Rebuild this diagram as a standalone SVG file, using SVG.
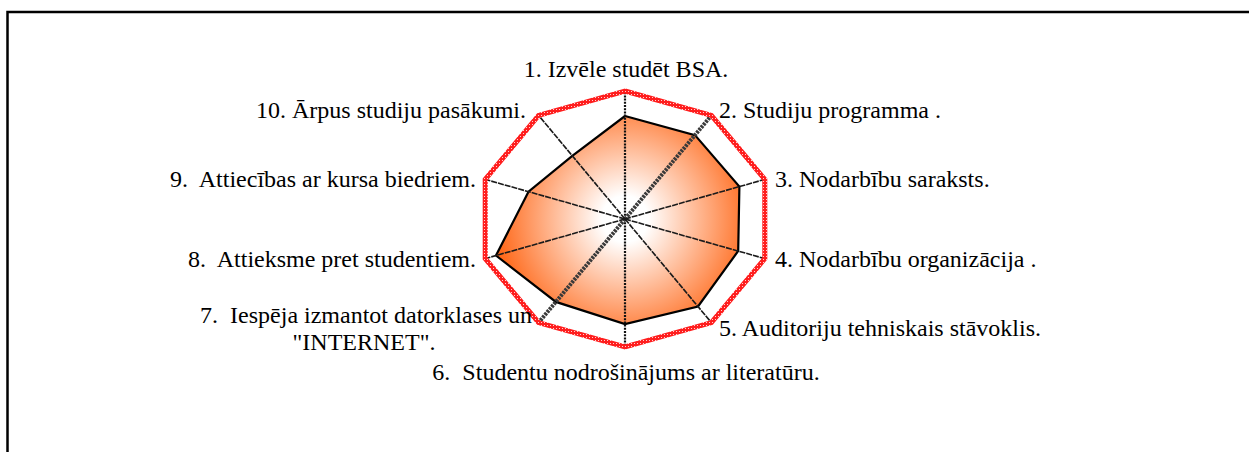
<svg xmlns="http://www.w3.org/2000/svg" width="1249" height="452" viewBox="0 0 1249 452">
<style>
.lbl{font-family:"Liberation Serif","Times New Roman",serif;font-size:24px;fill:#000;white-space:pre}
.ax{fill:none;stroke:#1a1a1a;stroke-width:1.6;stroke-dasharray:6 1}
.ax-v{fill:none;stroke:#111;stroke-width:2.2;stroke-dasharray:2 1.2}
.ax-k{fill:none;stroke:#3a3a3a;stroke-width:4;stroke-dasharray:2.5 1}
.frame{fill:none;stroke:#000;stroke-width:2.5}
</style>
<defs>
<radialGradient id="rg" gradientUnits="userSpaceOnUse" cx="625" cy="219" r="128">
<stop offset="0" stop-color="#ffffff"/>
<stop offset="0.18" stop-color="#ffffff"/>
<stop offset="1" stop-color="#ff6a1c"/>
</radialGradient>
<pattern id="chk" patternUnits="userSpaceOnUse" width="3" height="3">
<rect width="3" height="3" fill="#ff1e1e"/>
<rect x="1" y="1" width="1" height="1" fill="#ffd0d0"/>
</pattern>
</defs>
<rect width="1249" height="452" fill="#fff"/>
<g id="frame">
<polyline class="frame" points="7.5,452 7.5,12 1249,12"/>
</g>
<g id="data">
<polygon points="625,116 695,135.1 739.4,186.6 738.2,251 698,306.5 625,324 555.9,301.9 496,255.5 528.5,191.7 572.3,155.8" fill="url(#rg)" stroke="#000" stroke-width="2.2" stroke-linejoin="miter"/>
</g>
<g id="connectors">
<line class="ax-v" x1="625" y1="219" x2="625" y2="91"/>
<line class="ax-v" x1="625" y1="219" x2="625" y2="347"/>
<line class="ax-k" x1="625" y1="219" x2="711.4" y2="115.4"/>
<line class="ax-k" x1="625" y1="219" x2="538.6" y2="322.6"/>
<line class="ax" x1="625" y1="219" x2="764.8" y2="179.4"/>
<line class="ax" x1="625" y1="219" x2="764.8" y2="258.6"/>
<line class="ax" x1="625" y1="219" x2="711.4" y2="322.6"/>
<line class="ax" x1="625" y1="219" x2="485.2" y2="258.6"/>
<line class="ax" x1="625" y1="219" x2="485.2" y2="179.4"/>
<line class="ax" x1="625" y1="219" x2="538.6" y2="115.4"/>
</g>
<g id="outer">
<polygon points="625,91 711.4,115.4 764.8,179.4 764.8,258.6 711.4,322.6 625,347 538.6,322.6 485.2,258.6 485.2,179.4 538.6,115.4" fill="none" stroke="url(#chk)" stroke-width="5" stroke-linejoin="miter"/>
</g>
<g id="label1"><text class="lbl" x="626" y="77" text-anchor="middle">1. Izvēle studēt BSA.</text></g>
<g id="label2"><text class="lbl" x="719" y="118">2. Studiju programma .</text></g>
<g id="label3"><text class="lbl" x="775" y="187">3. Nodarbību saraksts.</text></g>
<g id="label4"><text class="lbl" x="775" y="267">4. Nodarbību organizācija .</text></g>
<g id="label5"><text class="lbl" x="719" y="336">5. Auditoriju tehniskais stāvoklis.</text></g>
<g id="label6"><text class="lbl" x="626" y="380" text-anchor="middle">6.  Studentu nodrošinājums ar literatūru.</text></g>
<g id="label7"><text class="lbl" x="532" y="323" text-anchor="end">7.  Iespēja izmantot datorklases un</text><text class="lbl" x="364" y="350" text-anchor="middle">"INTERNET".</text></g>
<g id="label8"><text class="lbl" x="476" y="267" text-anchor="end">8.  Attieksme pret studentiem.</text></g>
<g id="label9"><text class="lbl" x="476" y="187" text-anchor="end">9.  Attiecības ar kursa biedriem.</text></g>
<g id="label10"><text class="lbl" x="526" y="118" text-anchor="end">10. Ārpus studiju pasākumi.</text></g>
</svg>
